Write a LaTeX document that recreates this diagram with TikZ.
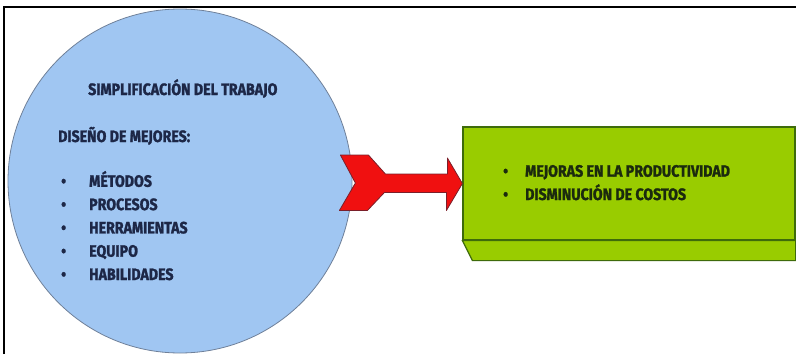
\documentclass[tikz,border=0pt]{standalone}
\usepackage{fontspec}
\usepackage{tikz}
\usetikzlibrary{shapes.geometric, arrows.meta}
\usetikzlibrary{positioning}
\usetikzlibrary{calc}
\newfontfamily\narrowbold[FakeStretch=0.86,FakeBold=1.5]{Fira Sans Bold}
\definecolor{circfill}{HTML}{A0C6F2}
\definecolor{circline}{HTML}{6F8099}
\definecolor{navytext}{HTML}{1D2747}
\definecolor{arrowred}{HTML}{F01010}
\definecolor{arrowline}{HTML}{7A1F2A}
\definecolor{limefill}{HTML}{99CC00}
\definecolor{limeline}{HTML}{3E6B0B}
\definecolor{greentext}{HTML}{1B2A0E}
\tikzset{
circlebox/.style={
	circle,
	minimum size=344pt,
	draw=circline,
	line width=0.8pt,
	fill=circfill,
	inner sep=0pt
},
resultbox/.style={
	rectangle,
	minimum width=332pt,
	minimum height=113pt,
	draw=limeline,
	line width=1.2pt,
	fill=limefill,
	inner sep=0pt
},
label/.style={
	anchor=base west,
	inner sep=0pt,
	align=left,
	text=navytext,
	font=\narrowbold\fontsize{16.5}{23.3}\selectfont
}
}

\begin{document}
\begin{tikzpicture}[x=1pt, y=-1pt]
\useasboundingbox (0,0) rectangle (796,354);

% frame
\draw[line width=2pt] (4,354) -- (4,7) -- (796,7);

\node (Trabajo) [circlebox] at (180,181) {};
\node (Titulo) [label] at (88,95) {SIMPLIFICACIÓN DEL TRABAJO};
\node (Diseno) [label] at (58,142) {DISEÑO DE MEJORES:};
% base anchor sits on the last line
\node (Lista) [label] at (61,280) {%
  \makebox[28pt][l]{•}MÉTODOS\\
  \makebox[28pt][l]{•}PROCESOS\\
  \makebox[28pt][l]{•}HERRAMIENTAS\\
  \makebox[28pt][l]{•}EQUIPO\\
  \makebox[28pt][l]{•}HABILIDADES};

\node (Resultado) [resultbox] at (629,183.5) {};
\draw[limeline, line width=1.2pt, fill=limefill]
  (Resultado.south west) -- (Resultado.south east) -- ++(0,20)
  -- ($(Resultado.south west)+(10,20)$) -- cycle;
\node (Mejoras) [label, text=greentext] at (503,200) {%
  \makebox[22pt][l]{•}MEJORAS EN LA PRODUCTIVIDAD\\
  \makebox[22pt][l]{•}DISMINUCIÓN DE COSTOS};

% arrow circle -> box
\coordinate (Cola) at ($(Trabajo.east)+(-12,2)$);
\draw[arrowline, line width=0.8pt, fill=arrowred, line join=round]
  (Cola) ++(0,-28) -- ++(28,0) -- ++(17,19) -- ++(62,0) -- ++(0,-16)
  -- (Resultado.west) -- ++(-16,27) -- ++(0,-18) -- ++(-62,0)
  -- ++(-17,18) -- ++(-28,0) -- ($(Cola)+(15,0)$) -- cycle;

\end{tikzpicture}
\end{document}
